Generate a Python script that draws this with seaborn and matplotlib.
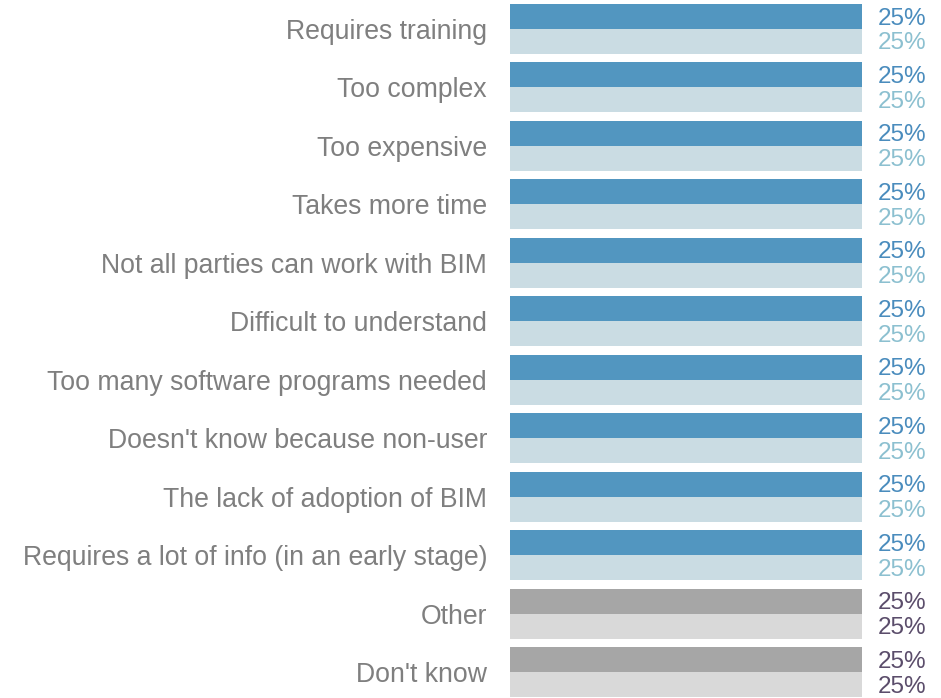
import matplotlib
matplotlib.use("Agg")
import matplotlib.pyplot as plt
import seaborn as sns
import pandas as pd

categories = ["Requires training", "Too complex", "Too expensive", "Takes more time",
              "Not all parties can work with BIM", "Difficult to understand",
              "Too many software programs needed", "Doesn't know because non-user",
              "The lack of adoption of BIM", "Requires a lot of info (in an early stage)",
              "Other", "Don't know"]
series_a = [25, 25, 25, 25, 25, 25, 25, 25, 25, 25, 25, 25]
series_b = [25, 25, 25, 25, 25, 25, 25, 25, 25, 25, 25, 25]
series_names = ["Series A", "Series B"]
grey_cats = ["Other", "Don't know"]

df = pd.DataFrame({
    "category": categories * 2,
    "value": series_a + series_b,
    "series": [series_names[0]] * len(categories) + [series_names[1]] * len(categories),
})

sns.set_style("white")
plt.rcParams['font.family'] = ['Liberation Sans', 'DejaVu Sans']

fig = plt.figure(figsize=(9.41, 6.98), dpi=100)
ax = fig.add_axes([510 / 941, 1 - 697 / 698, 352 / 941, 693 / 698])

sns.barplot(data=df, y="category", x="value", hue="series", order=categories,
            palette=["#5296c0", "#cadce3"], width=0.85, legend=False, ax=ax,
            saturation=1, linewidth=0)

bar_cols = [("#5296c0", "#a6a6a6"), ("#cadce3", "#d9d9d9")]
text_cols = [("#4a8cbd", "#5b4d6b"), ("#8cc0d0", "#5b4d6b")]
for k, cont in enumerate(ax.containers):
    for cat, patch in zip(categories, cont.patches):
        g = 1 if cat in grey_cats else 0
        patch.set_facecolor(bar_cols[k][g])
        val = patch.get_width()
        ax.annotate(f"{val:.0f}%", (val, patch.get_y() + patch.get_height() / 2),
                    xytext=(11.5, -1.5), textcoords="offset points",
                    va="center", ha="left", fontsize=17.5, color=text_cols[k][g],
                    annotation_clip=False)

ax.set_xlim(0, 25)
ax.set_ylim(11.425, -0.425)
ax.set_xlabel("")
ax.set_ylabel("")
ax.set_xticks([])
ax.tick_params(axis="y", length=0, pad=16.5, labelsize=19.2, labelcolor="#7f7f7f")
for s in ax.spines.values():
    s.set_visible(False)

fig.savefig("out.png", dpi=100)
